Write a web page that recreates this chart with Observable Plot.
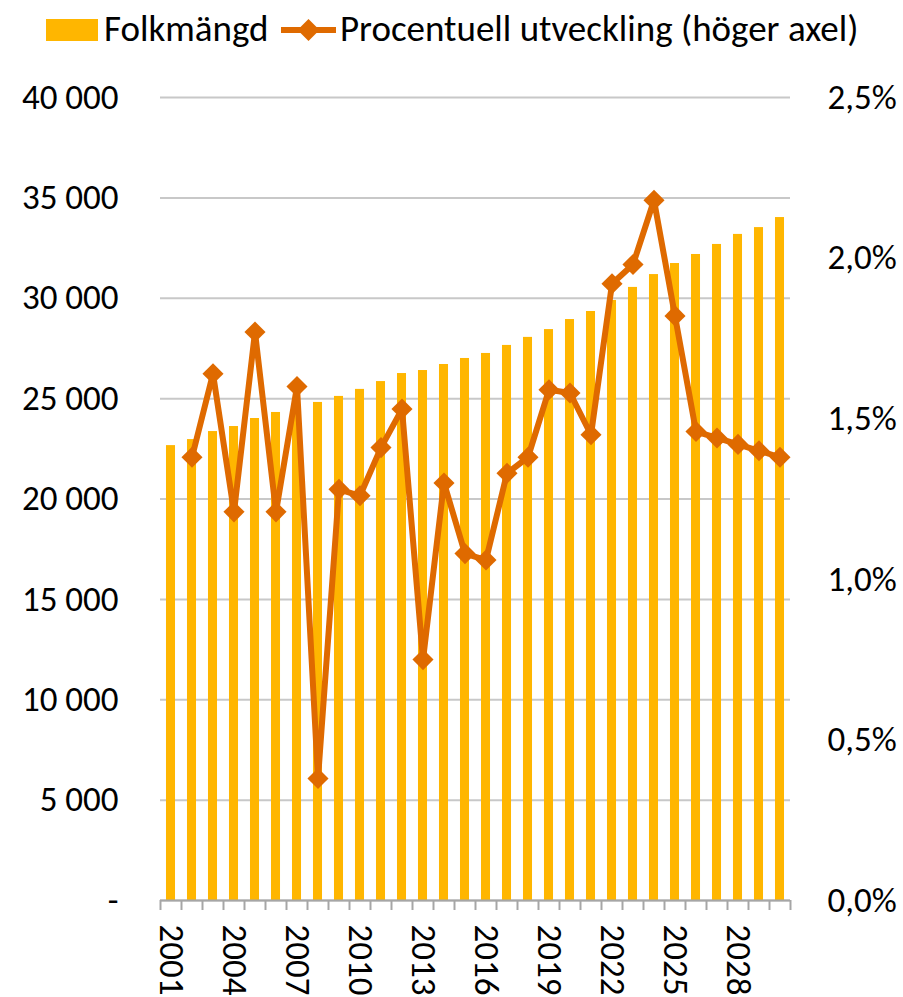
<!DOCTYPE html>
<html><head><meta charset="utf-8">
<script src="https://cdn.jsdelivr.net/npm/d3@7"></script>
<script src="https://cdn.jsdelivr.net/npm/@observablehq/plot@0.6"></script>
<style>
body{margin:0;background:#fff;font-family:Carlito,Lato,sans-serif;}
#wrap{position:relative;width:903px;height:997px;overflow:hidden;}
#legend{position:absolute;left:0;top:0;}
#chart{position:absolute;left:0;top:60px;}
</style></head><body>
<div id="wrap">
<svg id="legend" width="903" height="60" font-family="Carlito, Lato, sans-serif" font-size="37">
  <rect x="46" y="19" width="52" height="22" fill="#FFB600"/>
  <text x="104" y="41" fill="#000">Folkmängd</text>
  <line x1="281" y1="30" x2="336" y2="30" stroke="#DF6A00" stroke-width="6"/>
  <path d="M308.5,19 L319.5,30 L308.5,41 L297.5,30 Z" fill="#DF6A00"/>
  <text x="340" y="41" fill="#000">Procentuell utveckling (höger axel)</text>
</svg>
<div id="chart"></div>
</div>
<script>
const years = [2001,2002,2003,2004,2005,2006,2007,2008,2009,2010,2011,2012,2013,2014,2015,2016,2017,2018,2019,2020,2021,2022,2023,2024,2025,2026,2027,2028,2029,2030];
const population = [22660,22960,23360,23610,24010,24310,24610,24810,25110,25460,25850,26250,26400,26700,27000,27250,27650,28050,28440,28940,29340,29890,30540,31180,31730,32180,32680,33180,33520,34020];
const changePct = [null,1.38,1.64,1.21,1.77,1.21,1.60,0.38,1.28,1.26,1.41,1.53,0.75,1.30,1.08,1.06,1.33,1.38,1.59,1.58,1.45,1.92,1.98,2.18,1.82,1.46,1.44,1.42,1.40,1.38];
const leftTicks = [0,5000,10000,15000,20000,25000,30000,35000,40000];
const rightTicks = [0,0.5,1.0,1.5,2.0,2.5];
const labelYears = [2001,2004,2007,2010,2013,2016,2019,2022,2025,2028];

const data = years.map((y,i)=>({year:y, pop:population[i], pct:changePct[i]}));
const lineData = data.filter(d=>d.pct!=null);
const K = 40000/2.5;
const edges = d3.range(years[0]-0.5, years[years.length-1]+1, 1);
const font = "Carlito, Lato, sans-serif";

const chart = Plot.plot({
  width: 903, height: 937,
  marginLeft: 160, marginRight: 113, marginTop: 37, marginBottom: 97,
  x: {type: "linear", domain: [years[0]-0.5, years[years.length-1]+0.5], label: null},
  y: {domain: [0, 40000], label: null},
  style: {fontFamily: font, fontSize: "35px", color: "#000", background: "#fff", overflow: "visible"},
  marks: [
    Plot.gridY(leftTicks, {stroke: "#c8c8c8", strokeOpacity: 1, strokeWidth: 2}),
    Plot.rectY(data, {x1: d=>d.year-0.215, x2: d=>d.year+0.215, y: "pop", fill: "#FFB600"}),
    Plot.ruleY([0], {stroke: "#a6a6a6", strokeWidth: 2}),
    Plot.axisX(edges, {tickSize: 10, tickFormat: ()=>"", stroke: "#a6a6a6", strokeWidth: 2, strokeOpacity: 1, label: null}),
    Plot.axisX(labelYears, {tickSize: 0, tickRotate: 90, tickPadding: 24, tickFormat: d=>String(d), fontSize: 35, label: null}),
    Plot.axisY(leftTicks, {anchor: "left", tickSize: 0, tickPadding: 42, fontSize: 35, label: null,
      tickFormat: d => d === 0 ? "-" : d3.format(",")(d).replace(/,/g, "\u00a0")}),
    Plot.axisY(rightTicks.map(d=>d*K), {anchor: "right", tickSize: 0, tickPadding: 37, fontSize: 35, label: null,
      tickFormat: d => (d/K).toFixed(1).replace(".", ",") + "%"}),
    Plot.line(lineData, {x: "year", y: d=>d.pct*K, stroke: "#DF6A00", strokeWidth: 6, strokeLinejoin: "round"}),
    Plot.dot(lineData, {x: "year", y: d=>d.pct*K, symbol: "diamond2", r: 9.5, fill: "#DF6A00", stroke: "none"})
  ]
});
document.getElementById("chart").appendChild(chart);
</script>
</body></html>
